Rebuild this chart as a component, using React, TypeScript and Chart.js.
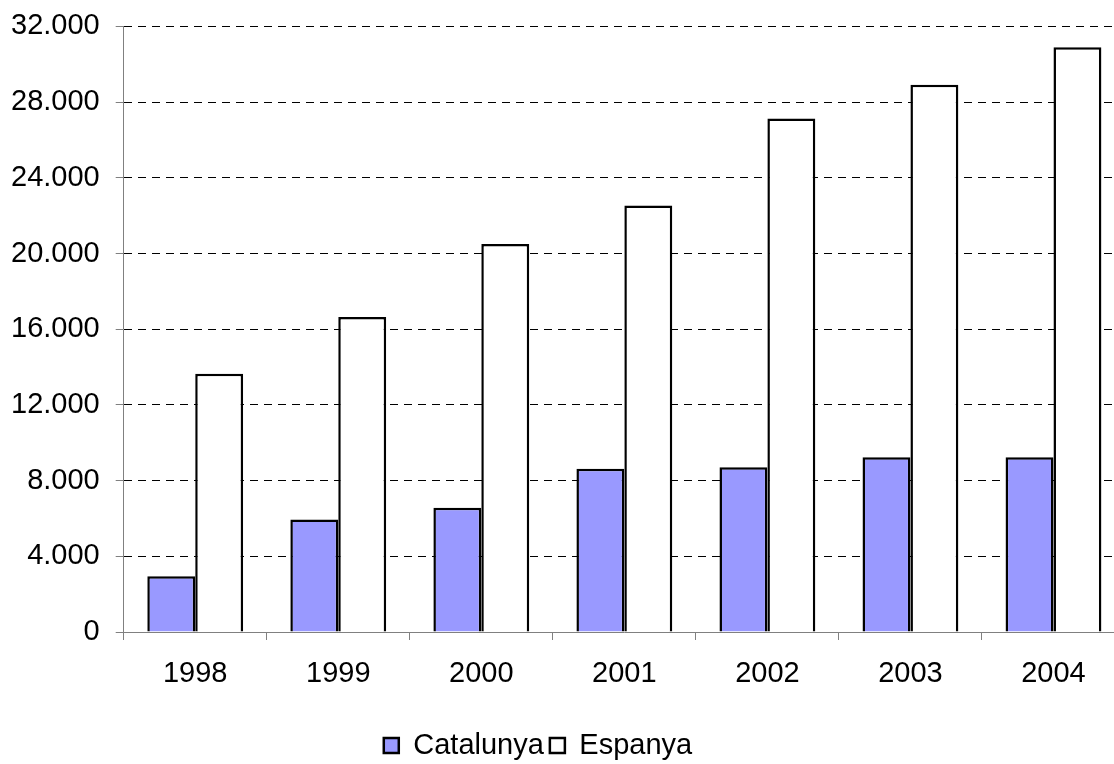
import React, { useEffect, useRef } from "react";
import { Chart, registerables } from "chart.js";

Chart.register(...registerables);

const categories = ["1998", "1999", "2000", "2001", "2002", "2003", "2004"];
const catalunya = [2940, 5940, 6570, 8630, 8700, 9240, 9230];
const espanya = [13650, 16640, 20500, 22540, 27140, 28920, 30900];
const yTickValues = [0, 4000, 8000, 12000, 16000, 20000, 24000, 28000, 32000];

const formatThousands = (v: number) =>
  String(Math.round(v)).replace(/\B(?=(\d{3})+(?!\d))/g, ".");

const OFFSET_X = 60;
const OFFSET_Y = 7;
const CANVAS_W = 1185;
const CANVAS_H = 764 + OFFSET_Y;
const FONT = "'Liberation Sans', Arial, Helvetica, sans-serif";
const FONT_SIZE = 29;

export default function App() {
  const ref = useRef<HTMLCanvasElement>(null);

  useEffect(() => {
    if (!ref.current) return;
    const chart = new Chart(ref.current, {
      type: "bar",
      data: {
        labels: categories,
        datasets: [
          {
            label: "Catalunya",
            data: catalunya,
            backgroundColor: "#9999ff",
            borderColor: "#000000",
            borderWidth: 2.5,
            categoryPercentage: 0.67,
            barPercentage: 1,
          },
          {
            label: "Espanya",
            data: espanya,
            backgroundColor: "#ffffff",
            borderColor: "#000000",
            borderWidth: 2.5,
            categoryPercentage: 0.67,
            barPercentage: 1,
          },
        ],
      },
      options: {
        responsive: false,
        animation: false,
        layout: { padding: { left: 11, right: 0, top: 4, bottom: -6 } },
        plugins: {
          tooltip: { enabled: false },
          legend: {
            position: "bottom",
            labels: {
              color: "#000",
              font: { family: FONT, size: FONT_SIZE },
              boxWidth: 15,
              boxHeight: 15,
              padding: 6,
            },
          },
        },
        scales: {
          x: {
            afterFit: (s: any) => {
              s.height = 93;
            },
            grid: {
              drawOnChartArea: false,
              drawTicks: true,
              tickLength: 8,
              color: "#808080",
              offset: true,
            },
            border: { color: "#808080", width: 1 },
            ticks: {
              color: "#000",
              font: { family: FONT, size: FONT_SIZE },
              padding: 17,
              maxRotation: 0,
            },
          },
          y: {
            min: 0,
            max: 32000,
            afterFit: (s: any) => {
              s.width = 123.7 + OFFSET_X - 11;
            },
            afterBuildTicks: (s: any) => {
              s.ticks = yTickValues.map((v) => ({ value: v }));
            },
            grid: {
              color: (ctx: any) =>
                ctx.tick && ctx.tick.value === 0 ? "rgba(0,0,0,0)" : "#000000",
              tickColor: "#808080",
              tickLength: 8,
              tickBorderDash: [],
              lineWidth: 1,
            },
            border: { color: "#808080", width: 1, dash: [8, 6] },
            ticks: {
              color: "#000",
              font: { family: FONT, size: FONT_SIZE },
              padding: 16,
              callback: (v: any) => formatThousands(Number(v)),
            },
          },
        },
      },
    });
    return () => chart.destroy();
  }, []);

  return (
    <div
      style={{
        position: "fixed",
        left: 0,
        top: 0,
        width: 1114,
        height: 764,
        overflow: "hidden",
        background: "#fff",
      }}
    >
      <canvas
        ref={ref}
        width={CANVAS_W}
        height={CANVAS_H}
        style={{
          position: "absolute",
          left: -OFFSET_X,
          top: -OFFSET_Y,
          width: CANVAS_W,
          height: CANVAS_H,
        }}
      />
    </div>
  );
}
